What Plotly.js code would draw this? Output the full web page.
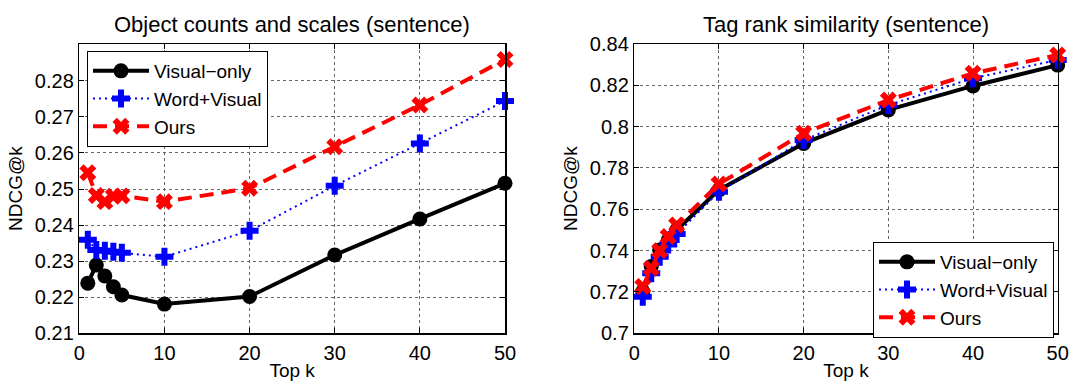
<!DOCTYPE html>
<html>
<head>
<meta charset="utf-8">
<script src="https://cdn.plot.ly/plotly-3.0.1.min.js"></script>
<style>html,body{margin:0;padding:0;background:#fff;}#chart{width:1091px;height:385px;}</style>
</head>
<body>
<div id="chart"></div>
<script>
const topK = [1, 2, 3, 4, 5, 10, 20, 30, 40, 50];
const seriesNames = ["Visual\u2212only", "Word+Visual", "Ours"];

// Left panel: Object counts and scales (sentence)
const objVisualOnly = [0.2239, 0.2289, 0.2259, 0.2229, 0.2206, 0.2181, 0.2202, 0.2317, 0.2417, 0.2516];
const objWordVisual = [0.2359, 0.2331, 0.2329, 0.2326, 0.2323, 0.2312, 0.2384, 0.2509, 0.2626, 0.2744];
const objOurs       = [0.2545, 0.2482, 0.2465, 0.2480, 0.2481, 0.2465, 0.2502, 0.2617, 0.2733, 0.2859];

// Right panel: Tag rank similarity (sentence)
const tagVisualOnly = [0.7202, 0.7323, 0.7403, 0.7450, 0.7500, 0.7694, 0.7919, 0.8081, 0.8197, 0.8298];
const tagWordVisual = [0.7177, 0.7290, 0.7370, 0.7430, 0.7480, 0.7685, 0.7935, 0.8105, 0.8234, 0.8323];
const tagOurs       = [0.7226, 0.7315, 0.7400, 0.7468, 0.7524, 0.7723, 0.7968, 0.8129, 0.8258, 0.8347];

const leftTicks = [0.21, 0.22, 0.23, 0.24, 0.25, 0.26, 0.27, 0.28];
const leftTickText = ["0.21", "0.22", "0.23", "0.24", "0.25", "0.26", "0.27", "0.28"];
const rightTicks = [0.70, 0.72, 0.74, 0.76, 0.78, 0.80, 0.82, 0.84];
const rightTickText = ["0.7", "0.72", "0.74", "0.76", "0.78", "0.8", "0.82", "0.84"];
const xTicks = [0, 10, 20, 30, 40, 50];

const FONT = '"Liberation Sans", Arial, Helvetica, sans-serif';

const styles = [
  {line: {color: '#000000', width: 4, dash: 'solid'}, marker: {symbol: 'circle', size: 15, color: '#000000'}},
  {line: {color: '#0000ff', width: 2, dash: '2px,4px'}, marker: {symbol: 'cross', size: 15, color: '#0000ff'}},
  {line: {color: '#ff0000', width: 4, dash: '14px,8px'}, marker: {symbol: 'x', size: 15, color: '#ff0000'}}
];

function mk(y, i, xa, ya, leg) {
  return {
    x: topK, y: y, type: 'scatter', mode: 'lines+markers',
    name: seriesNames[i], line: styles[i].line, marker: styles[i].marker,
    xaxis: xa, yaxis: ya, legend: leg, cliponaxis: false
  };
}

const data = [
  mk(objVisualOnly, 0, 'x', 'y', 'legend'),
  mk(objWordVisual, 1, 'x', 'y', 'legend'),
  mk(objOurs, 2, 'x', 'y', 'legend'),
  mk(tagVisualOnly, 0, 'x2', 'y2', 'legend2'),
  mk(tagWordVisual, 1, 'x2', 'y2', 'legend2'),
  mk(tagOurs, 2, 'x2', 'y2', 'legend2')
];

function xax(domain, anchor) {
  return {
    domain: domain, anchor: anchor, range: [0, 50], tickvals: xTicks,
    ticks: 'inside', ticklen: 5, tickcolor: '#000', tickwidth: 1,
    showline: true, linecolor: '#000', linewidth: 1.5, mirror: 'ticks',
    showgrid: true, gridcolor: '#666', griddash: 'dot', gridwidth: 1,
    zeroline: false, tickfont: {family: FONT, size: 20, color: '#000'},
    ticklabelstandoff: 1,
    title: {text: 'Top k', font: {family: FONT, size: 19, color: '#000'}, standoff: 1}
  };
}
function yax(domain, anchor, range, tv, tt) {
  return {
    domain: domain, anchor: anchor, range: range, tickvals: tv, ticktext: tt,
    ticks: 'inside', ticklen: 5, tickcolor: '#000', tickwidth: 1,
    showline: true, linecolor: '#000', linewidth: 1.5, mirror: 'ticks',
    showgrid: true, gridcolor: '#666', griddash: 'dot', gridwidth: 1,
    zeroline: false, tickfont: {family: FONT, size: 20, color: '#000'},
    ticklabelstandoff: 0,
    title: {text: 'NDCG@k', font: {family: FONT, size: 19, color: '#000'}, standoff: 7}
  };
}

const yDom = [(385 - 333.3) / 385, (385 - 44) / 385];

const legendBase = {
  bgcolor: '#ffffff', bordercolor: '#000', borderwidth: 1,
  font: {family: FONT, size: 19, color: '#000'},
  xanchor: 'left', yanchor: 'top', itemwidth: 56, tracegroupgap: 0,
  traceorder: 'normal'
};

const layout = {
  width: 1091, height: 385,
  margin: {l: 0, r: 0, t: 0, b: 0},
  paper_bgcolor: '#fff', plot_bgcolor: '#fff',
  showlegend: true,
  xaxis: xax([79.3 / 1091, 505 / 1091], 'y'),
  yaxis: yax(yDom, 'x', [0.21, 0.2902], leftTicks, leftTickText),
  xaxis2: xax([634.3 / 1091, 1057.7 / 1091], 'y2'),
  yaxis2: yax(yDom, 'x2', [0.70, 0.84], rightTicks, rightTickText),
  legend: Object.assign({}, legendBase, {x: 87 / 1091, y: (385 - 51) / 385}),
  legend2: Object.assign({}, legendBase, {x: 873 / 1091, y: (385 - 242) / 385}),
  annotations: [
    {text: 'Object counts and scales (sentence)', xref: 'x domain', yref: 'paper', x: 0.5, y: (385 - 24) / 385,
     xanchor: 'center', yanchor: 'middle', showarrow: false, font: {family: FONT, size: 22, color: '#000'}},
    {text: 'Tag rank similarity (sentence)', xref: 'x2 domain', yref: 'paper', x: 0.5, y: (385 - 24) / 385,
     xanchor: 'center', yanchor: 'middle', showarrow: false, font: {family: FONT, size: 22, color: '#000'}}
  ]
};

Plotly.newPlot('chart', data, layout, {staticPlot: true, displayModeBar: false});
</script>
</body>
</html>
